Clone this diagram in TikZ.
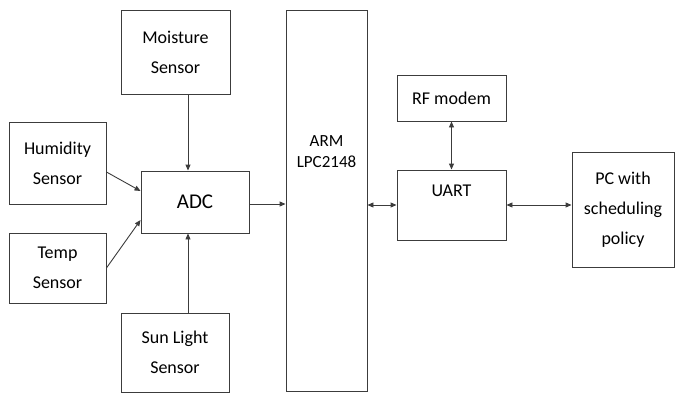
\documentclass[tikz,border=0pt]{standalone}
\usepackage{fontspec}
\setmainfont{Carlito}
\usetikzlibrary{arrows.meta,positioning,calc}
\definecolor{linegray}{RGB}{60,60,60}

\begin{document}
\begin{tikzpicture}[
    x=1pt, y=-1pt,
    box/.style={rectangle, draw=linegray, line width=0.9pt, inner sep=0pt, align=center,
        font=\fontsize{18}{30}\selectfont},
    conn/.style={draw=linegray, line width=0.9pt, -{Triangle[length=6pt,width=5pt]}},
    bidir/.style={conn, {Triangle[length=6pt,width=5pt]}-{Triangle[length=6pt,width=5pt]}}
]
    \useasboundingbox (0,0) rectangle (675,394);

    % Sensors
    \node[box, minimum width=109, minimum height=84] (moist) at (175.5,52) {Moisture\\Sensor};
    \node[box, minimum width=97, minimum height=82] (hum) at (57.5,163) {Humidity\\Sensor};
    \node[box, minimum width=97, minimum height=70] (temp) at (57.5,268) {Temp\\Sensor};
    \node[box, minimum width=108, minimum height=79] (sun) at (175,352.5) {Sun Light\\Sensor};

    % ADC
    \node[box, minimum width=108, minimum height=62, font=\fontsize{21}{26}\selectfont] (adc) at (195,202) {ADC};

    % Controller
    \node[box, minimum width=81, minimum height=381] (arm) at (326.5,200.5) {};
    \node[align=center, font=\fontsize{17}{21}\selectfont] (armlbl) at (326.5,152) {ARM\\LPC2148};

    % Communication
    \node[box, minimum width=109, minimum height=46] (rf) at (451.5,98) {RF modem};
    \node[box, minimum width=109, minimum height=70, text depth=28pt] (uart) at (451.5,205) {UART};
    \node[box, minimum width=102, minimum height=115] (pc) at (623,209.5) {PC with\\scheduling\\policy};

    % Edges
    \draw[conn] ([xshift=12.5pt]moist.south) -- ([xshift=12.5pt]moist.south |- adc.north);
    \draw[conn] ([yshift=-9pt]hum.east) -- ([yshift=11pt]adc.west);
    \draw[conn] (temp.east) -- ([yshift=-18pt]adc.west);
    \draw[conn] ([xshift=13pt]sun.north) -- ([xshift=13pt]sun.north |- adc.south);
    \draw[conn] ([yshift=-2pt]adc.east) -- ([yshift=-2pt]adc.east -| arm.west);
    \draw[bidir] (uart.west -| arm.east) -- (uart.west);
    \draw[bidir] (rf) -- (uart);
    \draw[bidir] (uart.east) -- (uart.east -| pc.west);
\end{tikzpicture}
\end{document}
